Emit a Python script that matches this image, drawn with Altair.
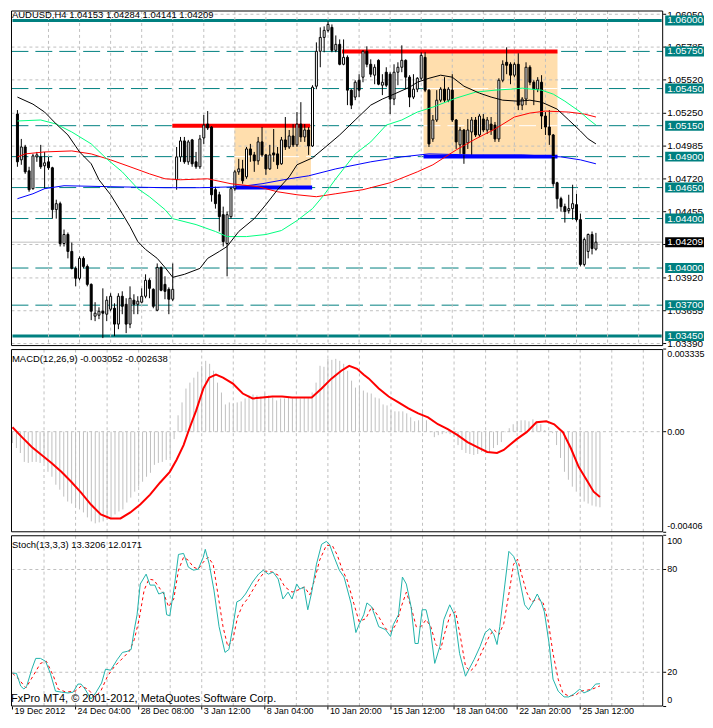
import altair as alt
import pandas as pd

FONT = "Liberation Sans"
TEAL = "#008080"
GRID = "#C0C0C0"
W = 655
H1, H2, H3 = 337, 184, 172

# ---------------- data ----------------
time_label_bars = [0, 16, 32, 48, 64, 80, 96, 112, 128, 144]
time_labels = ["19 Dec 2012", "24 Dec 04:00", "28 Dec 08:00", "3 Jan 12:00", "8 Jan 04:00",
               "10 Jan 20:00", "15 Jan 12:00", "18 Jan 04:00", "22 Jan 20:00", "25 Jan 12:00"]
grid_bars = [8, 16, 24, 32, 40, 48, 56, 64, 72, 80, 88, 96, 104, 112, 120, 128, 136, 144, 152, 160]

opens = [1.05244,1.04874,1.04978,1.04785,1.04641,1.04898,1.04898,1.04826,1.04858,1.04810,
1.04472,1.04520,1.04198,1.04271,1.04134,1.03997,1.03917,1.04078,1.04013,1.03868,
1.03611,1.03619,1.03651,1.03627,1.03667,1.03675,1.03547,1.03772,1.03707,1.03547,
1.03740,1.03707,1.03724,1.03772,1.03901,1.03828,1.03659,1.04005,1.03868,1.03828,
1.03748,1.04713,1.04898,1.05027,1.04858,1.05035,1.04858,1.04818,1.05051,1.05163,
1.05139,1.04633,1.04592,1.04431,1.04198,1.04415,1.04641,1.04777,1.04801,1.04737,
1.04962,1.04914,1.04866,1.05019,1.04914,1.04801,1.04930,1.04922,1.04842,1.05035,
1.04978,1.05067,1.04995,1.05163,1.05059,1.05115,1.04986,1.05469,1.05751,1.05863,
1.05920,1.05944,1.05759,1.05807,1.05646,1.05702,1.05437,1.05381,1.05517,1.05542,
1.05751,1.05646,1.05558,1.05678,1.05477,1.05582,1.05566,1.05365,1.05582,1.05622,
1.05678,1.05542,1.05381,1.05445,1.05533,1.05702,1.05437,1.05043,1.05196,1.05356,
1.05445,1.05356,1.05437,1.05196,1.04995,1.05115,1.05011,1.05099,1.05196,1.05075,
1.05204,1.05115,1.05163,1.05155,1.05043,1.05517,1.05662,1.05646,1.05558,1.05646,
1.05316,1.05365,1.05622,1.05501,1.05445,1.05501,1.05228,1.05139,1.05075,1.04689,
1.04560,1.04496,1.04464,1.04480,1.04512,1.04391,1.04029,1.04134,1.04271,1.04153]

closes = [1.04858,1.04978,1.04777,1.04633,1.04906,1.04914,1.04818,1.04850,1.04810,1.04472,
1.04520,1.04198,1.04271,1.04134,1.03997,1.03917,1.04078,1.04013,1.03868,1.03651,
1.03635,1.03651,1.03635,1.03740,1.03772,1.03547,1.03772,1.03691,1.03547,1.03756,
1.03707,1.03732,1.03772,1.03901,1.03836,1.03691,1.04005,1.03820,1.03812,1.03748,
1.03828,1.04898,1.05027,1.04858,1.05019,1.04842,1.04818,1.05043,1.05155,1.05131,
1.04592,1.04520,1.04415,1.04214,1.04431,1.04641,1.04777,1.04801,1.04705,1.04962,
1.04914,1.04866,1.05019,1.04914,1.04801,1.04914,1.04914,1.04834,1.05035,1.04978,
1.05067,1.04995,1.05163,1.05059,1.05115,1.04986,1.05461,1.05751,1.05863,1.05920,
1.05968,1.05759,1.05807,1.05646,1.05702,1.05437,1.05316,1.05501,1.05437,1.05751,
1.05646,1.05566,1.05622,1.05485,1.05501,1.05477,1.05365,1.05582,1.05622,1.05678,
1.05542,1.05381,1.05445,1.05533,1.05718,1.05437,1.05003,1.05196,1.05356,1.05445,
1.05356,1.05445,1.05196,1.05019,1.05115,1.04922,1.05115,1.05196,1.05075,1.05228,
1.05115,1.05196,1.05115,1.05043,1.05517,1.05646,1.05638,1.05558,1.05646,1.05316,
1.05365,1.05622,1.05501,1.05445,1.05517,1.05228,1.05139,1.05075,1.04681,1.04560,
1.04496,1.04456,1.04480,1.04520,1.04391,1.04029,1.04230,1.04271,1.04158,1.04209]

highs = [1.05276,1.05043,1.04995,1.04818,1.04922,1.04938,1.04995,1.04938,1.04898,1.04818,
1.04552,1.04536,1.04311,1.04287,1.04206,1.04013,1.04094,1.04094,1.04029,1.03876,
1.03724,1.03683,1.03836,1.03772,1.03796,1.03715,1.03796,1.03812,1.03756,1.03852,
1.03788,1.03772,1.03836,1.03949,1.03917,1.03836,1.04037,1.04013,1.03933,1.03844,
1.04037,1.04978,1.05059,1.05059,1.05035,1.05043,1.04938,1.05075,1.05236,1.05268,
1.05147,1.04657,1.04616,1.04496,1.04456,1.04657,1.04793,1.04882,1.04874,1.04978,
1.05003,1.04938,1.05059,1.05139,1.04922,1.04995,1.05123,1.04978,1.05059,1.05220,
1.05115,1.05163,1.05260,1.05340,1.05163,1.05139,1.05477,1.05823,1.05944,1.05952,
1.05992,1.05968,1.05879,1.05847,1.05847,1.05718,1.05445,1.05517,1.05566,1.05759,
1.05791,1.05686,1.05646,1.05686,1.05566,1.05622,1.05582,1.05646,1.05662,1.05799,
1.05686,1.05558,1.05566,1.05542,1.05743,1.05743,1.05445,1.05236,1.05437,1.05461,
1.05542,1.05461,1.05566,1.05204,1.05139,1.05123,1.05204,1.05220,1.05220,1.05244,
1.05244,1.05220,1.05220,1.05180,1.05533,1.05678,1.05783,1.05662,1.05662,1.05735,
1.05381,1.05662,1.05638,1.05517,1.05542,1.05558,1.05260,1.05276,1.05083,1.04697,
1.04576,1.04520,1.04592,1.04673,1.04600,1.04440,1.04246,1.04279,1.04295,1.04284]

lows = [1.04818,1.04834,1.04761,1.04616,1.04633,1.04858,1.04801,1.04641,1.04793,1.04399,
1.04399,1.04174,1.04174,1.04078,1.03989,1.03852,1.03901,1.03997,1.03852,1.03579,
1.03571,1.03587,1.03434,1.03571,1.03651,1.03450,1.03506,1.03627,1.03474,1.03514,
1.03627,1.03627,1.03715,1.03756,1.03756,1.03675,1.03651,1.03812,1.03748,1.03627,
1.03732,1.04633,1.04858,1.04842,1.04834,1.04818,1.04801,1.04801,1.05003,1.05115,
1.04536,1.04480,1.04295,1.04174,1.03933,1.04399,1.04624,1.04753,1.04681,1.04721,
1.04858,1.04777,1.04834,1.04898,1.04753,1.04793,1.04858,1.04801,1.04834,1.04954,
1.04962,1.04978,1.04978,1.05019,1.05019,1.04914,1.04978,1.05445,1.05622,1.05743,
1.05903,1.05743,1.05743,1.05638,1.05638,1.05316,1.05284,1.05356,1.05381,1.05501,
1.05622,1.05542,1.05485,1.05477,1.05397,1.05461,1.05244,1.05316,1.05477,1.05582,
1.05445,1.05300,1.05365,1.05421,1.05517,1.05421,1.04978,1.05019,1.05180,1.05340,
1.05340,1.05340,1.05180,1.04962,1.04922,1.04842,1.04962,1.04914,1.05059,1.05059,
1.05099,1.05083,1.05075,1.05019,1.05019,1.05501,1.05566,1.05485,1.05542,1.05276,
1.05276,1.05316,1.05477,1.05316,1.05421,1.05123,1.05075,1.04995,1.04657,1.04480,
1.04456,1.04367,1.04440,1.04391,1.04375,1.04013,1.04013,1.04078,1.04110,1.04141]

# moving averages (bar index, value)
bk_bar = [0,4,7,10,13,16,19,21,24,27,29,31,33,36,38,40,43,47,49,52,54,57,61,64,67,70,72,76,80,83,
          87,91,94,97,101,103,106,109,112,115,119,122,125,129,132,135,139,142,145,147,149]
bk_val = [1.05381,1.05324,1.05260,1.05163,1.05075,1.04938,1.04842,1.04713,1.04592,1.04440,
          1.04335,1.04214,1.04150,1.04078,1.04005,1.03925,1.03949,1.03997,1.04078,1.04134,
          1.04174,1.04295,1.04399,1.04512,1.04633,1.04737,1.04834,1.04890,1.04995,1.05075,
          1.05196,1.05316,1.05365,1.05405,1.05461,1.05501,1.05533,1.05558,1.05542,1.05469,
          1.05413,1.05381,1.05356,1.05348,1.05356,1.05340,1.05284,1.05196,1.05107,1.05043,1.05003]
gr_bar = [0,6,10,14,19,23,27,31,34,38,40,46,51,54,59,64,68,72,76,79,82,87,91,95,99,103,107,113,
          118,123,127,130,135,138,141,145,147,149]
gr_val = [1.05188,1.05196,1.05163,1.05099,1.05003,1.04882,1.04777,1.04641,1.04576,1.04472,
          1.04399,1.04351,1.04295,1.04254,1.04254,1.04271,1.04303,1.04383,1.04480,1.04592,
          1.04721,1.04922,1.05019,1.05155,1.05196,1.05260,1.05300,1.05373,1.05421,1.05437,
          1.05445,1.05453,1.05437,1.05405,1.05348,1.05260,1.05204,1.05155]
rd_bar = [0,2,7,14,19,24,29,34,38,42,49,55,62,67,72,77,82,89,96,103,107,113,118,123,128,132,136,142,146,149]
rd_val = [1.04898,1.04922,1.04938,1.04946,1.04922,1.04874,1.04818,1.04761,1.04721,1.04713,
          1.04721,1.04681,1.04657,1.04616,1.04592,1.04576,1.04600,1.04633,1.04689,1.04777,
          1.04834,1.04954,1.05043,1.05123,1.05220,1.05252,1.05268,1.05260,1.05244,1.05220]
bl_bar = [0,4,7,12,24,38,47,57,63,70,75,82,91,99,106,117,130,140,145,149]
bl_val = [1.04560,1.04600,1.04641,1.04665,1.04657,1.04649,1.04649,1.04657,1.04681,1.04721,
          1.04745,1.04801,1.04858,1.04898,1.04922,1.04914,1.04914,1.04898,1.04874,1.04842]

levels = [1.06000, 1.05750, 1.05450, 1.05150, 1.04900, 1.04650, 1.04400, 1.04000, 1.03700, 1.03450]
level_solid = [True, False, False, False, False, False, False, False, False, True]
price_ticks = [1.06050, 1.05785, 1.05520, 1.05250, 1.04985, 1.04720, 1.04455, 1.04190, 1.03920, 1.03655, 1.03390]
current_price = 1.04209

seg_start = [39.9, 55.9, 83.6, 104.6]
seg_end = [75.4, 75.9, 139.1, 139.1]
seg_price = [1.0515, 1.0465, 1.0575, 1.0490]
seg_color = ["#FF0000", "#0000FF", "#FF0000", "#0000FF"]
box_start = [55.9, 104.6]
box_end = [75.6, 139.1]
box_top = [1.0515, 1.0575]
box_bottom = [1.0465, 1.0490]

macd_hist = [-0.00046,-0.00066,-0.00086,-0.00122,-0.00126,-0.00122,-0.00122,-0.00126,-0.00126,-0.00162,
-0.00182,-0.00214,-0.00234,-0.00262,-0.00282,-0.00290,-0.00306,-0.00314,-0.00326,-0.00346,
-0.00362,-0.00370,-0.00366,-0.00362,-0.00354,-0.00350,-0.00334,-0.00322,-0.00314,-0.00286,
-0.00266,-0.00242,-0.00222,-0.00202,-0.00182,-0.00166,-0.00134,-0.00126,-0.00122,-0.00114,
-0.00106,-0.00030,0.00066,0.00118,0.00174,0.00198,0.00218,0.00242,0.00266,0.00286,
0.00274,0.00246,0.00198,0.00158,0.00110,0.00118,0.00114,0.00118,0.00122,0.00134,
0.00146,0.00150,0.00146,0.00142,0.00154,0.00146,0.00138,0.00126,0.00134,0.00134,
0.00138,0.00134,0.00138,0.00134,0.00138,0.00138,0.00158,0.00198,0.00266,0.00262,
0.00294,0.00290,0.00294,0.00286,0.00274,0.00246,0.00206,0.00178,0.00186,0.00166,
0.00158,0.00154,0.00138,0.00134,0.00110,0.00106,0.00086,0.00082,0.00082,0.00082,
0.00074,0.00058,0.00042,0.00046,0.00086,0.00046,-0.00002,-0.00022,-0.00014,-0.00010,
-0.00006,-0.00010,-0.00022,-0.00054,-0.00074,-0.00086,-0.00090,-0.00094,-0.00090,-0.00082,
-0.00082,-0.00082,-0.00066,-0.00054,-0.00042,-0.00002,0.00014,0.00030,0.00042,0.00046,
0.00046,0.00042,0.00050,0.00038,0.00030,0.00006,-0.00002,-0.00006,-0.00054,-0.00106,
-0.00162,-0.00194,-0.00222,-0.00242,-0.00262,-0.00282,-0.00290,-0.00298,-0.00302,-0.003052]

sig_bar = [0,2.4,4.9,7.4,9.9,12.4,14.9,17.4,19.9,22.4,24.9,27.4,29.9,32.4,34.9,37.4,39.9,41.6,43.4,44.9,
           46.6,48.4,49.9,51.6,53.4,55.9,58.4,60.9,63.4,65.9,68.4,70.9,73.4,75.9,78.4,80.9,83.4,85.4,87.4,89.1,
           90.4,92.9,95.4,97.9,100.4,102.9,105.4,107.9,110.4,112.9,115.4,117.9,120.4,122.9,124.6,126.1,127.9,
           130.4,132.9,135.4,137.4,139.6,141.6,143.6,145.9,147.4,149]
sig_val = [0.00018,-0.00022,-0.00062,-0.00094,-0.00126,-0.00162,-0.00202,-0.00246,-0.00294,-0.00334,
           -0.00350,-0.00350,-0.00326,-0.00294,-0.00254,-0.00206,-0.00162,-0.00114,-0.00054,0.00014,
           0.00086,0.00174,0.00218,0.00230,0.00218,0.00194,0.00154,0.00134,0.00138,0.00142,
           0.00142,0.00138,0.00138,0.00138,0.00174,0.00214,0.00246,0.00266,0.00254,0.00230,
           0.00214,0.00174,0.00142,0.00118,0.00094,0.00074,0.00058,0.00030,0.00010,-0.00014,
           -0.00042,-0.00062,-0.00082,-0.00086,-0.00074,-0.00054,-0.00030,-0.00002,0.00038,0.00042,
           0.00030,-0.00002,-0.00066,-0.00142,-0.00202,-0.00242,-0.002638]
macd_top, macd_bottom = 0.003335, -0.00406

sm_bar = [0,1,2.1,2.9,3.6,4.9,5.9,7.1,8.4,9.6,10.9,12.4,14.1,15.4,16.6,17.4,18.4,19.9,21.1,22.6,
          23.6,24.9,26.6,27.9,29.1,30.1,30.9,31.6,32.4,33.9,34.9,36.1,37.1,38.4,39.1,39.9,41.1,42.1,43.4,44.6,
          45.9,47.1,48.4,48.9,49.9,51.1,52.4,53.9,54.9,55.9,56.9,57.9,59.1,60.9,62.4,63.6,64.9,66.1,67.4,68.6,
          69.9,70.9,72.1,72.9,73.9,74.9,75.9,77.1,78.4,79.6,80.4,81.6,82.9,84.1,85.9,87.1,87.9,89.1,89.9,91.1,
          92.9,94.6,95.9,96.6,97.9,98.9,99.9,101.1,102.1,102.9,103.9,104.9,105.9,107.1,108.4,109.4,110.9,112.1,113.4,114.9,
          115.9,117.1,118.6,119.9,121.1,122.1,122.9,123.6,124.9,125.9,127.1,127.9,128.9,129.9,130.9,132.1,133.1,134.1,134.9,136.1,
          137.1,138.4,139.9,141.1,142.4,143.9,144.9,146.6,147.9,149]
sm_val = [19.4,19.4,11.9,10.2,11.9,21.8,28.1,28.1,26.4,19.4,9.0,8.4,7.9,8.4,13.1,13.1,10.2,4.4,7.9,13.7,
          21.8,21.2,27.5,31.6,32.2,33.3,44.9,53.6,71.5,77.3,70.9,70.9,65.7,66.8,53.6,53.0,70.9,88.8,89.4,81.4,
          79.6,80.2,87.2,91.8,83.1,68.0,46.6,31.6,33.3,46.6,61.1,62.3,65.7,72.7,77.3,79.6,77.3,78.5,74.4,62.8,
          66.8,62.8,71.5,68.6,69.8,56.5,66.8,83.1,94.7,96.4,94.7,87.2,79.6,75.6,60.0,43.2,47.8,53.6,60.5,58.2,
          46.6,44.9,40.9,47.8,53.6,75.6,71.5,58.2,36.8,36.8,56.5,56.5,46.6,25.2,35.1,50.7,59.4,53.6,31.0,17.7,
          22.3,27.5,35.1,43.2,45.5,42.0,36.2,46.6,71.5,90.6,87.7,83.1,70.9,59.4,56.5,61.1,65.7,61.1,55.3,36.8,
          16.0,9.0,5.6,5.6,7.3,10.2,7.9,9.6,13.1,13.32]
ss_bar = [0,1.6,3.4,4.9,7.1,8.6,10.4,11.6,13.6,15.9,17.4,19.1,20.9,22.4,24.1,25.9,27.9,29.6,30.9,32.1,
          33.4,34.6,35.9,37.1,38.4,39.6,40.9,42.1,43.4,44.6,45.9,47.1,48.4,49.6,50.9,52.1,53.4,54.6,55.9,57.1,
          58.4,59.6,61.1,62.9,64.1,65.9,67.4,69.1,70.9,72.4,74.1,75.4,76.6,77.9,79.6,81.1,82.4,83.6,84.9,86.6,
          87.9,89.6,91.1,92.9,94.6,96.1,97.4,98.6,99.9,101.1,102.4,103.6,104.9,106.1,107.4,108.6,109.6,111.1,112.4,113.6,
          114.9,116.1,117.4,119.1,120.9,122.1,123.4,124.6,125.9,127.1,128.1,129.1,130.4,131.6,133.4,134.6,135.9,137.1,138.4,139.6,
          141.1,142.9,144.1,145.9,147.1,149]
ss_val = [19.4,16.0,10.8,16.6,25.2,26.4,17.7,10.2,8.4,9.0,11.9,10.2,5.6,9.0,17.7,23.5,28.1,32.2,39.1,50.7,
          68.0,74.4,73.8,69.8,65.7,58.2,62.8,79.6,87.2,85.4,81.4,80.2,84.3,87.2,83.1,65.7,46.6,35.1,39.1,52.4,
          59.4,62.8,68.6,75.6,79.1,78.5,76.7,69.8,66.8,68.0,69.8,65.1,73.8,85.4,94.1,94.1,88.3,80.2,73.8,60.0,
          49.6,51.3,58.2,52.4,45.5,43.8,48.4,58.2,66.8,58.2,46.6,46.6,50.7,46.6,36.2,33.3,42.6,54.2,55.3,40.9,
          23.5,20.6,23.5,32.2,40.9,44.9,42.0,48.4,65.7,83.1,86.0,77.3,66.8,61.1,62.8,60.5,49.6,31.0,16.0,7.9,
          6.1,6.7,9.0,9.6,10.2,12.02]
stoch_levels = [20, 80]

title_text = "AUDUSD,H4 1.04153 1.04284 1.04141 1.04209"
macd_text = "MACD(12,26,9) -0.003052 -0.002638"
stoch_text = "Stoch(13,3,3) 13.3206 12.0171"
credit_text = "FxPro MT4, \u00a9 2001-2012, MetaQuotes Software Corp."

# ---------------- scales ----------------
xscale = alt.Scale(domain=[-0.379, 165.04], nice=False, zero=False)
pscale = alt.Scale(domain=[1.033695, 1.060804], nice=False, zero=False)
mscale = alt.Scale(domain=[macd_bottom, macd_top], nice=False, zero=False)
sscale = alt.Scale(domain=[0, 100], nice=False, zero=False)

one_row = pd.DataFrame({"k": [0]})


def X(field):
    return alt.X(field, type="quantitative", scale=xscale, axis=None)


def Yq(field, scale):
    return alt.Y(field, type="quantitative", scale=scale, axis=None)


def text_layer(txt, x, y, size):
    return alt.Chart(pd.DataFrame({"t": [txt]})).mark_text(
        align="left", baseline="middle", font=FONT, fontSize=size, color="black"
    ).encode(x=alt.value(x), y=alt.value(y), text="t:N")


def hrule(df, field, scale, color, width=1, dash=None):
    kw = dict(color=color, strokeWidth=width)
    if dash:
        kw["strokeDash"] = dash
    half = width / 2.0
    return alt.Chart(df).mark_rule(**kw).encode(
        x=alt.value(half), x2=alt.value(W - half), y=Yq(field, scale))


def vgrid(h):
    return alt.Chart(pd.DataFrame({"g": grid_bars})).mark_rule(
        color=GRID, strokeDash=[3, 3], strokeWidth=1).encode(
        x=X("g"), y=alt.value(0.5), y2=alt.value(h - 0.5))


def border(h):
    return alt.Chart(one_row).mark_rect(fillOpacity=0, stroke="black", strokeWidth=1).encode(
        x=alt.value(0.5), x2=alt.value(W - 0.5), y=alt.value(0.5), y2=alt.value(h - 0.5))


def right_labels(vals, texts, scale, baseline="middle", size=10, dy=0):
    df = pd.DataFrame({"v": vals, "t": texts})
    lab = alt.Chart(df).mark_text(align="left", baseline=baseline, font=FONT, fontSize=size,
                                  color="black", dy=dy).encode(
        x=alt.value(W + 4), y=Yq("v", scale), text="t:N")
    tick = alt.Chart(df).mark_rule(color="black", strokeWidth=1).encode(
        x=alt.value(W), x2=alt.value(W + 3), y=Yq("v", scale))
    return [tick, lab]


n = len(opens)
candles = pd.DataFrame({"i": list(range(n)), "o": opens, "h": highs, "l": lows, "c": closes})
candles["top"] = candles[["o", "c"]].max(axis=1)
candles["bot"] = candles[["o", "c"]].min(axis=1)
candles["dir"] = ["up" if c >= o else "down" for o, c in zip(opens, closes)]

# ---------------- price panel ----------------
boxes = alt.Chart(pd.DataFrame({"x": box_start, "x2": box_end, "t": box_top, "b": box_bottom})).mark_rect(
    color="#FFDEAD").encode(x=X("x"), x2="x2:Q", y=Yq("t", pscale), y2="b:Q")

# level lines crossing a shaded box show up as white dashes inside it
inner = [(s, e, p) for s, e, t, b in zip(box_start, box_end, box_top, box_bottom) for p in levels if b < p < t]
inner_df = pd.DataFrame({"x": [r[0] for r in inner], "x2": [r[1] for r in inner], "p": [r[2] for r in inner]})
inner_dash = alt.Chart(inner_df).mark_rule(color="white", strokeWidth=1, strokeDash=[17, 7]).encode(
    x=X("x"), x2="x2:Q", y=Yq("p", pscale))

hgrid = hrule(pd.DataFrame({"p": price_ticks}), "p", pscale, GRID, 1, [3, 3])
lv = pd.DataFrame({"p": levels, "solid": level_solid})
lv_dash = hrule(lv[~lv.solid], "p", pscale, TEAL, 1, [17, 7])
lv_solid = hrule(lv[lv.solid], "p", pscale, TEAL, 3)
cur_line = hrule(pd.DataFrame({"p": [current_price]}), "p", pscale, GRID, 1)

segs = alt.Chart(pd.DataFrame({"x": seg_start, "x2": seg_end, "p": seg_price, "c": seg_color})).mark_rule(
    strokeWidth=4).encode(x=X("x"), x2="x2:Q", y=Yq("p", pscale), color=alt.Color("c:N", scale=None))

wicks = alt.Chart(candles).mark_rule(color="black", strokeWidth=1).encode(
    x=X("i"), y=Yq("l", pscale), y2="h:Q")
bodies = alt.Chart(candles).mark_bar(width=2, stroke="black", strokeWidth=1).encode(
    x=X("i"), y=Yq("bot", pscale), y2="top:Q",
    color=alt.Color("dir:N", scale=alt.Scale(domain=["up", "down"], range=["white", "black"]), legend=None))


def ma_line(bars, vals, color):
    return alt.Chart(pd.DataFrame({"b": bars, "v": vals})).mark_line(color=color, strokeWidth=1).encode(
        x=X("b"), y=Yq("v", pscale))


ma_layers = [ma_line(bl_bar, bl_val, "#0000FF"), ma_line(rd_bar, rd_val, "#FF0000"),
             ma_line(gr_bar, gr_val, "#00FF7F"), ma_line(bk_bar, bk_val, "black")]

price_tick_text = ["%.5f" % v for v in price_ticks]
price_axis_layers = (right_labels(price_ticks[:1], price_tick_text[:1], pscale, baseline="top", dy=-3.8)
                     + right_labels(price_ticks[1:], price_tick_text[1:], pscale))

lab = pd.DataFrame({"p": levels + [current_price],
                    "bg": [TEAL] * len(levels) + ["black"],
                    "t": ["%.5f" % v for v in levels + [current_price]]})
lab_rect = alt.Chart(lab).mark_rect(yOffset=-5, y2Offset=5).encode(
    x=alt.value(W + 2), x2=alt.value(W + 41), y=Yq("p", pscale), y2="p:Q", color=alt.Color("bg:N", scale=None))
lab_text = alt.Chart(lab).mark_text(align="left", baseline="middle", font=FONT, fontSize=10, color="white").encode(
    x=alt.value(W + 4), y=Yq("p", pscale), text="t:N")

price = alt.layer(lv_dash, lv_solid, boxes, vgrid(H1), hgrid, inner_dash, cur_line, segs, wicks, bodies,
                  *ma_layers, *price_axis_layers, lab_rect, lab_text, border(H1),
                  text_layer(title_text, 1, 5, 9.5)).properties(width=W, height=H1)

# ---------------- MACD panel ----------------
mdf = pd.DataFrame({"i": list(range(n)), "v": macd_hist, "z": [0.0] * n})
zero_line = hrule(pd.DataFrame({"z": [0.0]}), "z", mscale, GRID, 1, [3, 3])
hist = alt.Chart(mdf).mark_rule(color=GRID, strokeWidth=1).encode(x=X("i"), y=Yq("v", mscale), y2="z:Q")
signal = alt.Chart(pd.DataFrame({"b": sig_bar, "v": sig_val})).mark_line(color="#FF0000", strokeWidth=2).encode(
    x=X("b"), y=Yq("v", mscale))
macd_axis_layers = (right_labels([macd_top], ["0.003335"], mscale, baseline="top", size=9, dy=1)
                    + right_labels([0.0], ["0.00"], mscale, size=9)
                    + right_labels([macd_bottom], ["-0.00406"], mscale, baseline="bottom", size=9, dy=-1))
macd = alt.layer(vgrid(H2), zero_line, hist, signal, *macd_axis_layers, border(H2),
                 text_layer(macd_text, 1, 10, 9.5)).properties(width=W, height=H2)

# ---------------- Stochastic panel ----------------
s_grid = hrule(pd.DataFrame({"s": stoch_levels}), "s", sscale, GRID, 1, [3, 3])
s_sig = alt.Chart(pd.DataFrame({"b": ss_bar, "v": ss_val})).mark_line(
    color="#FF0000", strokeWidth=1, strokeDash=[3, 3]).encode(x=X("b"), y=Yq("v", sscale))
s_main = alt.Chart(pd.DataFrame({"b": sm_bar, "v": sm_val})).mark_line(color="#20B2AA", strokeWidth=1).encode(
    x=X("b"), y=Yq("v", sscale))
stoch_axis_layers = (right_labels([100], ["100"], sscale, baseline="top", size=9, dy=2)
                     + right_labels([80, 20], ["80", "20"], sscale, size=9)
                     + right_labels([0], ["0"], sscale, baseline="bottom", size=9, dy=-2))
tdf = pd.DataFrame({"b": time_label_bars, "t": time_labels})
x_ticks = alt.Chart(tdf).mark_rule(color="black", strokeWidth=1).encode(
    x=X("b"), y=alt.value(H3), y2=alt.value(H3 + 3))
x_labels = alt.Chart(tdf).mark_text(align="left", baseline="top", font=FONT, fontSize=9, color="black",
                                    dx=2).encode(x=X("b"), y=alt.value(H3 + 1), text="t:N")
stoch = alt.layer(vgrid(H3), s_grid, s_sig, s_main, *stoch_axis_layers, x_ticks, x_labels, border(H3),
                  text_layer(stoch_text, 1, 10, 9.5),
                  text_layer(credit_text, 0, H3 - 8, 11)).properties(width=W, height=H3)

chart = alt.vconcat(price, macd, stoch, spacing=3, bounds="flush").properties(
    padding=0, background="white").configure_view(stroke=None)

chart.save("out.html", embed_options={"renderer": "svg", "actions": False})
